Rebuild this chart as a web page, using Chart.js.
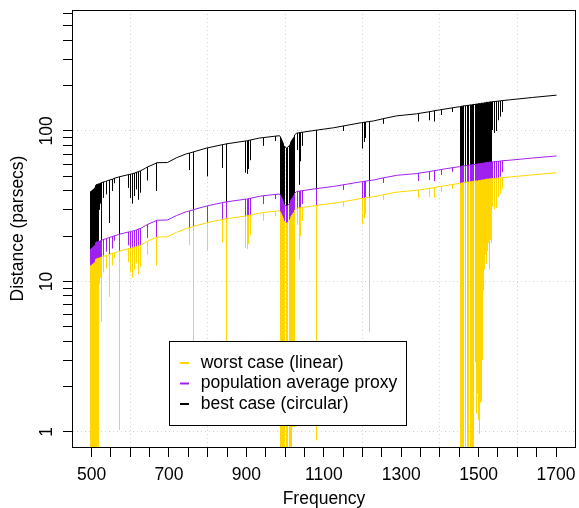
<!DOCTYPE html>
<html>
<head>
<meta charset="utf-8">
<title>Distance vs frequency</title>
<script src="https://cdn.jsdelivr.net/npm/chart.js@4.4.1/dist/chart.umd.min.js"></script>
<style>
  html, body { margin: 0; padding: 0; background: #fff; }
  canvas { display: block; }
</style>
</head>
<body>
<canvas id="chart" width="579" height="508"></canvas>
<script>
// ---- values ----

// smooth part of each curve
const baseFreq  = [519, 535, 570, 604, 639, 669, 695, 720, 746, 798, 901, 935, 985, 1030, 1038, 1124, 1198, 1228, 1288, 1340, 1400, 1450, 1536, 1580, 1640, 1700];
const bestBase  = [44.5, 46.2, 49.4, 51.9, 56.6, 61.5, 61.7, 66.4, 70.5, 77.0, 86.0, 89.8, 93.0, 96.5, 97.5, 105, 113.6, 116.6, 126, 130, 138, 145, 156.5, 161, 167, 173];
const avgBase   = [18.5, 19.2, 20.5, 21.5, 23.5, 25.5, 25.6, 27.4, 29.1, 31.7, 35.3, 36.8, 38.1, 39.5, 39.9, 42.8, 46.0, 47.2, 50.7, 52.1, 55.2, 57.9, 62.3, 63.9, 66.1, 68.2];
const worstBase = [14.3, 14.8, 15.8, 16.6, 18.2, 19.7, 19.8, 21.2, 22.5, 24.5, 27.3, 28.4, 29.5, 30.5, 30.8, 33.1, 35.6, 36.5, 39.2, 40.3, 42.7, 44.8, 48.2, 49.4, 51.1, 52.7];

// downward spikes (same frequencies in all three curves)
const spikeFreq = [
  497, 499, 501, 503, 505, 507, 509, 511, 513, 515, 517,
  520, 523, 526, 531, 538, 546, 553, 560, 572, 596, 600, 605, 610, 615, 620, 626, 645, 667, 752, 763, 800, 839, 849, 898, 902, 906, 911, 944, 975,
  989, 991, 993, 995, 997, 999, 1003, 1005, 1007, 1011, 1013, 1015, 1017, 1019, 1021, 1023, 1025,
  1033, 1036, 1041, 1046, 1082, 1150, 1201, 1205, 1209, 1218, 1255, 1345, 1372, 1387, 1405, 1432,
  1453, 1455, 1457, 1459, 1461, 1465, 1467, 1471, 1473, 1475, 1479, 1481, 1483, 1485, 1487,
  1491, 1493, 1495, 1497, 1499, 1501, 1503, 1505, 1507, 1509, 1511, 1513, 1515, 1517, 1519, 1521, 1523, 1525, 1527, 1529, 1531, 1533,
  1537, 1541, 1546, 1552, 1557, 1562
];

const bestTop = [
  39.5, 39.7, 40, 40.5, 41, 41.5, 42.5, 43.5, 44, 44.2, 44.4,
  44.6, 45.0, 45.3, 45.8, 46.5, 47.2, 47.8, 48.5, 49.6, 51.3, 51.6, 52.0, 52.5, 53.1, 53.7, 54.3, 57.6, 61.2, 71.3, 72.6, 77.2, 81.1, 82.1, 85.8, 86.1, 86.6, 87.1, 90.4, 92.4,
  91, 88, 85, 82, 80, 79, 77, 77, 78, 80, 82, 84, 86, 88, 90, 92, 94,
  96.9, 97.2, 97.7, 98.1, 101.3, 108.0, 113.9, 114.3, 114.7, 115.6, 120.8, 130.7, 134.3, 136.3, 138.7, 142.5,
  145, 146, 146, 146, 147, 147, 147, 148, 148, 148, 149, 149, 149, 150, 150,
  150, 151, 151, 151, 152, 152, 152, 152, 153, 153, 153, 153, 154, 154, 154, 155, 155, 155, 155, 156, 156, 156,
  156.6, 157.0, 157.5, 158.1, 158.6, 159.2
];
const bestLow = [
  0.5, 0.5, 0.5, 0.5, 0.5, 0.5, 0.5, 0.5, 0.5, 0.5, 0.5,
  30, 33, 17, 36, 38, 24.5, 40, 45, 3.3, 42, 36, 33, 37, 41, 35, 39, 47, 40, 55, 6.3, 50, 57, 6.3, 53, 52, 56, 64, 80, 86,
  0.5, 0.5, 0.5, 0.5, 0.5, 0.5, 0.5, 0.5, 0.5, 0.5, 0.5, 0.5, 0.5, 3.4, 3.4, 3.4, 3.4,
  75, 44, 63, 80, 2.8, 100, 76.6, 84.7, 90, 14.5, 112, 116, 118, 116, 128, 134,
  0.5, 0.5, 0.5, 0.5, 0.5, 0.5, 0.5, 0.5, 0.5, 0.5, 0.5, 0.5, 0.5, 0.5, 0.5,
  9.4, 11.3, 4.3, 5.8, 3.9, 3.1, 3.5, 5.0, 5.2, 9.7, 16.1, 28.4, 38.7, 59.7, 48.4, 42.6, 51.6, 58, 38.7, 54.8, 61.3, 58,
  101.6, 97.5, 100, 118, 125, 134
];

const avgTop = [
  16.4, 16.5, 16.6, 16.8, 17.0, 17.2, 17.6, 18.1, 18.3, 18.3, 18.4,
  18.5, 18.7, 18.8, 19.0, 19.3, 19.6, 19.9, 20.1, 20.6, 21.3, 21.4, 21.6, 21.8, 22.0, 22.3, 22.5, 23.9, 25.4, 29.4, 30.0, 31.8, 33.4, 33.8, 35.2, 35.3, 35.5, 35.7, 37.1, 37.9,
  37.3, 36.1, 34.9, 33.6, 32.8, 32.4, 31.6, 31.6, 32.0, 32.8, 33.6, 34.4, 35.3, 36.1, 36.9, 37.7, 38.5,
  39.7, 39.8, 40.0, 40.1, 41.4, 43.9, 46.1, 46.3, 46.4, 46.8, 48.8, 52.4, 53.7, 54.5, 55.5, 57.0,
  57.9, 58.3, 58.3, 58.3, 58.7, 58.7, 58.7, 59.1, 59.1, 59.1, 59.5, 59.5, 59.5, 59.9, 59.9,
  59.9, 60.2, 60.2, 60.2, 60.6, 60.6, 60.6, 60.6, 61.0, 61.0, 61.0, 61.0, 61.4, 61.4, 61.4, 61.8, 61.8, 61.8, 61.8, 62.2, 62.2, 62.2,
  62.3, 62.5, 62.7, 62.9, 63.1, 63.4
];
const avgLow = [
  0.5, 0.5, 0.5, 0.5, 0.5, 0.5, 0.5, 0.5, 0.5, 0.5, 0.5,
  12.5, 13.7, 7.1, 14.9, 15.8, 10.2, 16.6, 18.7, 1.37, 17.4, 14.9, 13.7, 15.4, 17.0, 14.5, 16.2, 19.5, 16.6, 22.7, 2.6, 20.6, 23.5, 2.6, 21.7, 21.3, 23.0, 26.2, 32.8, 35.3,
  0.5, 0.5, 0.5, 0.5, 0.5, 0.5, 0.5, 0.5, 0.5, 0.5, 0.5, 0.5, 0.5, 1.4, 1.4, 1.4, 1.4,
  30.7, 18.0, 25.8, 32.7, 1.14, 40.6, 31.0, 34.3, 36.4, 5.9, 45.2, 46.5, 47.2, 46.4, 51.2, 53.6,
  0.5, 0.5, 0.5, 0.5, 0.5, 0.5, 0.5, 0.5, 0.5, 0.5, 0.5, 0.5, 0.5, 0.5, 0.5,
  3.75, 4.5, 1.72, 2.33, 1.55, 1.25, 1.42, 2.02, 2.07, 3.9, 6.5, 11.4, 15.5, 23.9, 19.4, 17.1, 20.7, 23.3, 15.5, 22, 24.6, 23.3,
  40.6, 39.0, 40, 47, 49.8, 53.3
];

const worstTop = [
  12.7, 12.8, 12.8, 13.0, 13.1, 13.3, 13.6, 14.0, 14.1, 14.2, 14.2,
  14.3, 14.4, 14.5, 14.7, 14.9, 15.1, 15.4, 15.5, 15.9, 16.5, 16.6, 16.7, 16.9, 17.0, 17.2, 17.4, 18.5, 19.6, 22.7, 23.2, 24.6, 25.8, 26.1, 27.2, 27.3, 27.4, 27.6, 28.7, 29.3,
  28.8, 27.9, 27.0, 26.0, 25.4, 25.0, 24.4, 24.4, 24.7, 25.4, 26.0, 26.6, 27.3, 27.9, 28.5, 29.1, 29.8,
  30.7, 30.8, 30.9, 31.0, 32.0, 33.9, 35.6, 35.8, 35.9, 36.2, 37.7, 40.5, 41.5, 42.1, 42.9, 44.1,
  44.8, 45.1, 45.1, 45.1, 45.4, 45.4, 45.4, 45.7, 45.7, 45.7, 46.0, 46.0, 46.0, 46.3, 46.3,
  46.3, 46.5, 46.5, 46.5, 46.8, 46.8, 46.8, 46.8, 47.2, 47.2, 47.2, 47.2, 47.5, 47.5, 47.5, 47.8, 47.8, 47.8, 47.8, 48.1, 48.1, 48.1,
  48.2, 48.3, 48.5, 48.6, 48.8, 49.0
];
const worstLow = [
  0.5, 0.5, 0.5, 0.5, 0.5, 0.5, 0.5, 0.5, 0.5, 0.5, 0.5,
  9.6, 10.6, 5.4, 11.5, 12.2, 7.9, 12.8, 14.4, 1.03, 13.5, 11.5, 10.6, 11.9, 13.2, 11.2, 12.5, 15.1, 12.8, 17.5, 2.0, 15.9, 18.2, 2.0, 16.8, 16.5, 17.8, 20.3, 25.4, 27.3,
  0.5, 0.5, 0.5, 0.5, 0.5, 0.5, 0.5, 0.5, 0.5, 0.5, 0.5, 0.5, 0.5, 1.08, 1.08, 1.08, 1.08,
  23.7, 13.9, 20.0, 25.3, 0.88, 31.4, 24.0, 26.5, 28.1, 4.6, 34.9, 36.0, 36.5, 35.9, 39.6, 41.4,
  0.5, 0.5, 0.5, 0.5, 0.5, 0.5, 0.5, 0.5, 0.5, 0.5, 0.5, 0.5, 0.5, 0.5, 0.5,
  2.9, 3.5, 1.33, 1.8, 1.2, 0.97, 1.1, 1.56, 1.6, 3.0, 5.0, 8.8, 12, 18.5, 15, 13.2, 16, 18, 12, 17, 19, 18,
  31.5, 30.2, 31, 36.4, 38.5, 41.2
];

// axes
const freqTicks  = [500, 550, 600, 650, 700, 750, 800, 850, 900, 950, 1000, 1050, 1100, 1150, 1200, 1250, 1300, 1350, 1400, 1450, 1500, 1550, 1600, 1650, 1700];
const freqLabels = [500, 700, 900, 1100, 1300, 1500, 1700];
const freqGrid   = [600, 800, 1000, 1200, 1400, 1600];
const distTicks  = [1, 2, 3, 4, 5, 6, 7, 8, 9, 10, 20, 30, 40, 50, 60, 70, 80, 90, 100, 200, 300, 400, 500, 600];
const distLabels = [1, 10, 100];

const seriesNames  = ["worst case (linear)", "population average proxy", "best case (circular)"];
const seriesColors = ["#FFD700", "#A020F0", "#000000"];

const FONT = '"Liberation Sans", Arial, Helvetica, sans-serif';
const FSIZE = 17.5;

// baseline points + each spike as a vertical stroke (top -> low -> top)
function buildLine(base, top, low) {
  const pts = baseFreq.map((f, i) => ({ x: f, y: base[i], k: 0 }));
  spikeFreq.forEach((f, i) => {
    pts.push({ x: f, y: top[i], k: 1 }, { x: f, y: low[i], k: 2 }, { x: f, y: top[i], k: 3 });
  });
  pts.sort((a, b) => a.x - b.x || a.k - b.k);
  return pts.map(p => ({ x: p.x, y: p.y }));
}

// snap line vertices to pixel centres so the 1px spikes stay crisp
const snapPlugin = {
  id: "snap",
  beforeDatasetsDraw(chart) {
    chart.getSortedVisibleDatasetMetas().forEach(meta => {
      meta.data.forEach(pt => { pt.x = Math.floor(pt.x) + 0.5; });
    });
  }
};

// ---- box around plot + legend ----
const framePlugin = {
  id: "frame",
  afterDraw(chart) {
    const { ctx, chartArea: a, scales: { x, y } } = chart;
    ctx.save();
    ctx.strokeStyle = "#000";
    ctx.lineWidth = 1;
    ctx.strokeRect(a.left - 0.5, a.top + 0.5, a.right - a.left + 1, a.bottom - a.top);

    // legend anchored at (700, 4) in data units
    const lx = Math.round(x.getPixelForValue(700));
    const ly = Math.round(y.getPixelForValue(4));
    ctx.font = FSIZE + "px " + FONT;
    const textW = Math.max(...seriesNames.map(n => ctx.measureText(n).width));
    const w = Math.round(31.7 + textW + 8.5);
    const h = 84;
    ctx.fillStyle = "#fff";
    ctx.fillRect(lx, ly, w, h);
    ctx.strokeRect(lx + 0.5, ly + 0.5, w, h);
    ctx.textBaseline = "middle";
    ctx.textAlign = "left";
    seriesNames.forEach((name, i) => {
      const ry = ly + 22 + i * 20.5;
      ctx.strokeStyle = seriesColors[i];
      ctx.lineWidth = 2;
      ctx.beginPath();
      ctx.moveTo(lx + 11, ry);
      ctx.lineTo(lx + 20, ry);
      ctx.stroke();
      ctx.fillStyle = "#000";
      ctx.fillText(name, lx + 31.7, ry);
    });
    ctx.restore();
  }
};

const datasets = [
  { label: seriesNames[0], data: buildLine(worstBase, worstTop, worstLow), borderColor: seriesColors[0] },
  { label: seriesNames[1], data: buildLine(avgBase, avgTop, avgLow), borderColor: seriesColors[1] },
  { label: seriesNames[2], data: buildLine(bestBase, bestTop, bestLow), borderColor: seriesColors[2] }
].map(d => Object.assign(d, { borderWidth: 1, pointRadius: 0, pointHitRadius: 0, tension: 0, fill: false }));

new Chart(document.getElementById("chart"), {
  type: "line",
  data: { datasets },
  plugins: [snapPlugin, framePlugin],
  options: {
    responsive: false,
    animation: false,
    devicePixelRatio: 1,
    layout: { padding: { top: 10, right: 4, left: 0, bottom: 0 } },
    plugins: { legend: { display: false }, tooltip: { enabled: false } },
    scales: {
      x: {
        type: "linear",
        min: 452,
        max: 1749,
        afterBuildTicks: s => { s.ticks = freqTicks.map(v => ({ value: v })); },
        afterFit: s => { s.height = 61; s.paddingLeft = 0; s.paddingRight = 0; },
        ticks: {
          autoSkip: false,
          maxRotation: 0,
          minRotation: 0,
          padding: 8,
          color: "#000",
          font: { family: FONT, size: FSIZE },
          callback: v => freqLabels.includes(v) ? String(v) : ""
        },
        grid: {
          color: c => (c.tick && freqGrid.includes(c.tick.value)) ? "#d3d3d3" : "rgba(0,0,0,0)",
          tickColor: "#000",
          tickLength: 10,
          tickWidth: 1,
          lineWidth: 1
        },
        border: { display: false, dash: [1, 3] },
        title: {
          display: true,
          text: "Frequency",
          color: "#000",
          font: { family: FONT, size: FSIZE },
          padding: { top: 0, bottom: -2 }
        }
      },
      y: {
        type: "logarithmic",
        min: 0.793,
        max: 637,
        afterBuildTicks: s => { s.ticks = distTicks.map(v => ({ value: v })); },
        afterFit: s => { s.width = 73; s.paddingTop = 0; s.paddingBottom = 0; },
        ticks: {
          autoSkip: false,
          minRotation: 90,
          maxRotation: 90,
          crossAlign: "center",
          padding: 1,
          color: "#000",
          font: { family: FONT, size: FSIZE },
          callback: v => distLabels.includes(v) ? String(v) : ""
        },
        grid: {
          color: c => (c.tick && distLabels.includes(c.tick.value)) ? "#d3d3d3" : "rgba(0,0,0,0)",
          tickColor: "#000",
          tickLength: 10,
          tickWidth: 1,
          lineWidth: 1
        },
        border: { display: false, dash: [1, 3] },
        title: {
          display: true,
          text: "Distance (parsecs)",
          color: "#000",
          font: { family: FONT, size: FSIZE },
          padding: { top: 8, bottom: 0 }
        }
      }
    }
  }
});
</script>
</body>
</html>
